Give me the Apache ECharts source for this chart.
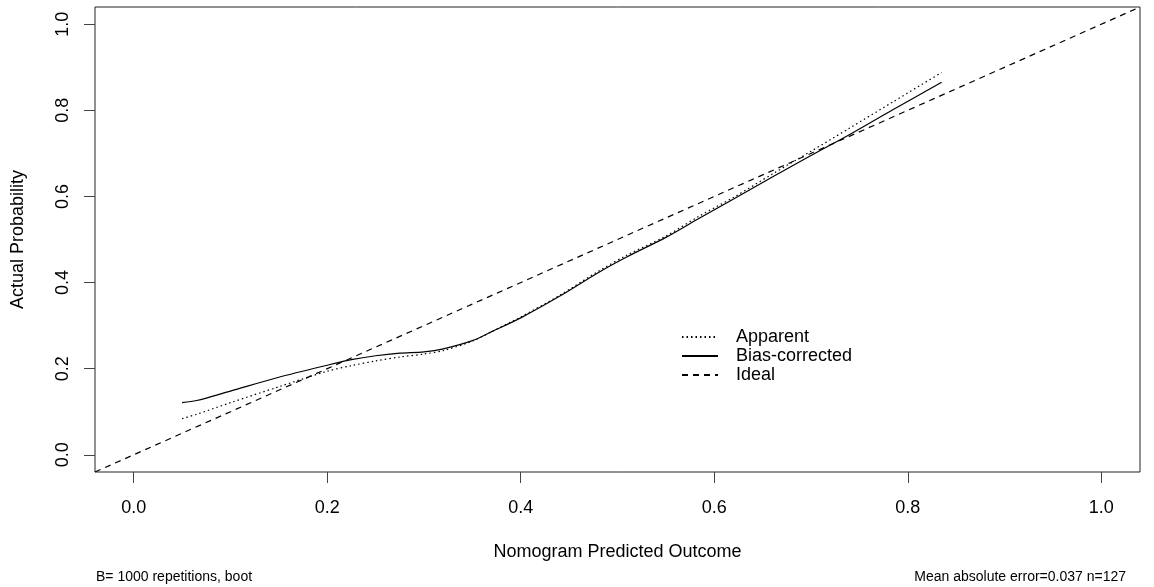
<!DOCTYPE html>
<html>
<head>
<meta charset="utf-8">
<script src="https://cdn.jsdelivr.net/npm/echarts@6/dist/echarts.min.js"></script>
<style>
  html, body { margin: 0; padding: 0; background: #fff; }
  #chart { width: 1154px; height: 587px; }
</style>
</head>
<body>
<div id="chart"></div>
<script>
// values
const predicted = [0.05, 0.065, 0.1, 0.15, 0.2, 0.225, 0.25, 0.275, 0.3, 0.32, 0.35, 0.37, 0.4, 0.44, 0.48, 0.51, 0.55, 0.585, 0.62, 0.66, 0.7, 0.74, 0.785, 0.835];
const apparent = [0.084, 0.094, 0.121, 0.158, 0.194, 0.207, 0.218, 0.227, 0.234, 0.242, 0.264, 0.286, 0.320, 0.370, 0.426, 0.464, 0.508, 0.555, 0.598, 0.652, 0.705, 0.759, 0.820, 0.888];
const biasCorrected = [0.121, 0.126, 0.148, 0.180, 0.208, 0.221, 0.230, 0.236, 0.239, 0.246, 0.265, 0.286, 0.318, 0.368, 0.423, 0.460, 0.505, 0.550, 0.594, 0.645, 0.695, 0.744, 0.802, 0.865];
const idealX = [-0.04, 1.04];
const tickValues = [0, 0.2, 0.4, 0.6, 0.8, 1.0];
const footLeft = 'B= 1000 repetitions, boot';
const footRight = 'Mean absolute error=0.037 n=127';

const font = '"Liberation Sans", Arial, Helvetica, sans-serif';
const chart = echarts.init(document.getElementById('chart'));

const pairs = (xs, ys) => xs.map((x, i) => [x, ys[i]]);

const axisCommon = {
  type: 'value',
  min: -0.04,
  max: 1.04,
  nameLocation: 'middle',
  nameTextStyle: { fontFamily: font, fontSize: 18, color: '#000' },
  axisLine: { show: false, onZero: false },
  splitLine: { show: false },
  axisTick: { show: true, length: 11, customValues: tickValues, lineStyle: { color: '#444' } },
  axisLabel: {
    customValues: tickValues,
    fontFamily: font,
    fontSize: 18,
    color: '#000',
    formatter: v => v.toFixed(1)
  }
};

chart.setOption({
  animation: false,
  backgroundColor: '#fff',
  color: ['#000', '#000', '#000'],
  grid: { left: 95, right: 14, top: 7, bottom: 115, show: true, borderColor: '#222', borderWidth: 1 },
  xAxis: Object.assign({}, axisCommon, {
    name: 'Nomogram Predicted Outcome',
    nameGap: 71,
    axisLabel: Object.assign({}, axisCommon.axisLabel, { margin: 27 })
  }),
  yAxis: Object.assign({}, axisCommon, {
    name: 'Actual Probability',
    nameGap: 68,
    axisLabel: Object.assign({}, axisCommon.axisLabel, { rotate: 90, margin: 23 })
  }),
  legend: {
    orient: 'vertical',
    left: 676,
    top: 323,
    itemWidth: 36,
    itemHeight: 12,
    itemGap: 1,
    itemStyle: { opacity: 0 },
    textStyle: { fontFamily: font, fontSize: 18, color: '#000', lineHeight: 18, padding: [0, 0, 0, 13] },
    data: ['Apparent', 'Bias-corrected', 'Ideal']
  },
  graphic: [
    { type: 'text', left: 96, top: 570, style: { text: footLeft, font: '14px ' + font, fill: '#000' } },
    { type: 'text', right: 28, top: 570, style: { text: footRight, font: '14px ' + font, fill: '#000' } }
  ],
  series: [
    {
      name: 'Apparent',
      type: 'line',
      data: pairs(predicted, apparent),
      symbol: 'none',
      smooth: 0.3,
      lineStyle: { color: '#000', width: 1.2, type: [1.5, 3] }
    },
    {
      name: 'Bias-corrected',
      type: 'line',
      data: pairs(predicted, biasCorrected),
      symbol: 'none',
      smooth: 0.3,
      lineStyle: { color: '#000', width: 1.2, type: 'solid' }
    },
    {
      name: 'Ideal',
      type: 'line',
      data: pairs(idealX, idealX),
      symbol: 'none',
      lineStyle: { color: '#000', width: 1.2, type: [6, 5] }
    }
  ]
});
</script>
</body>
</html>
